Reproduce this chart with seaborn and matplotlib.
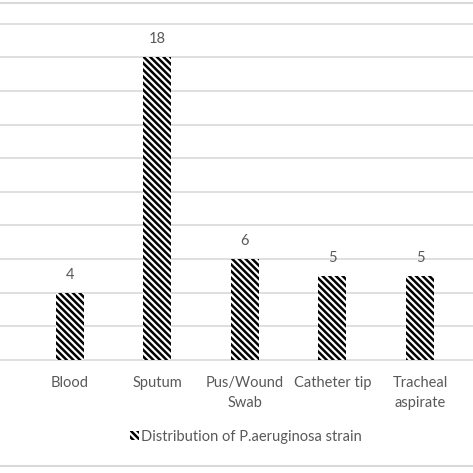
import matplotlib
matplotlib.use("Agg")
import matplotlib.pyplot as plt
import matplotlib.patches as mpatches
from matplotlib.lines import Line2D
import pandas as pd
import seaborn as sns

# ── data ────────────────────────────────────────────────
categories = ["Blood", "Sputum", "Pus/Wound\nSwab", "Catheter tip", "Tracheal\naspirate"]
counts = [4, 18, 6, 5, 5]
series_name = "Distribution of P.aeruginosa strain"
y_ticks = list(range(0, 21, 2))

sns.set_style("white")
plt.rcParams["font.family"] = ["Lato", "DejaVu Sans"]
plt.rcParams["hatch.linewidth"] = 1.8
text_grey = "#595959"
grid_grey = "#d9d9d9"
hatch = "\\\\\\\\\\"

df = pd.DataFrame({"source": categories, "count": counts})

fig = plt.figure(figsize=(4.73, 4.73), dpi=100)
ax = fig.add_axes([0, 1 - 360 / 473, 1, (360 - 23.6) / 473])

sns.barplot(data=df, x="source", y="count", ax=ax, color="white",
            edgecolor="black", linewidth=0, width=0.32, saturation=1)
for p in ax.patches:
    p.set_hatch(hatch)

ax.set_xlim(-0.8, 4.606)
ax.set_ylim(0, 20)
ax.set_yticks(y_ticks)
ax.yaxis.grid(True, color=grid_grey, linewidth=1.2)
for gl in ax.get_ygridlines():
    gl.set_clip_on(False)
ax.set_axisbelow(True)
ax.tick_params(axis="y", left=False, labelleft=False)
ax.tick_params(axis="x", bottom=False, labelsize=10.5, colors=text_grey, pad=8)
for lbl in ax.get_xticklabels():
    lbl.set_linespacing(1.55)
ax.set_xlabel(""); ax.set_ylabel("")
for s in ax.spines.values():
    s.set_visible(False)

for i, v in enumerate(counts):
    ax.annotate(str(v), (i, v), xytext=(0, 8), textcoords="offset points",
                ha="center", va="bottom", fontsize=10.5, color=text_grey)

handle = mpatches.Patch(facecolor="white", edgecolor="black", hatch=hatch, linewidth=0)
fig.legend([handle], [series_name], loc="center", bbox_to_anchor=(0.52, 1 - 437 / 473),
           frameon=False, fontsize=10.5, labelcolor=text_grey,
           handlelength=0.6, handleheight=0.6, handletextpad=0.2)

# chart frame lines at top and bottom
for yy in (3, 466):
    fig.add_artist(Line2D([0, 1], [1 - yy / 473] * 2, color=grid_grey, linewidth=1.5,
                          transform=fig.transFigure))

fig.savefig("out.png", dpi=100)
